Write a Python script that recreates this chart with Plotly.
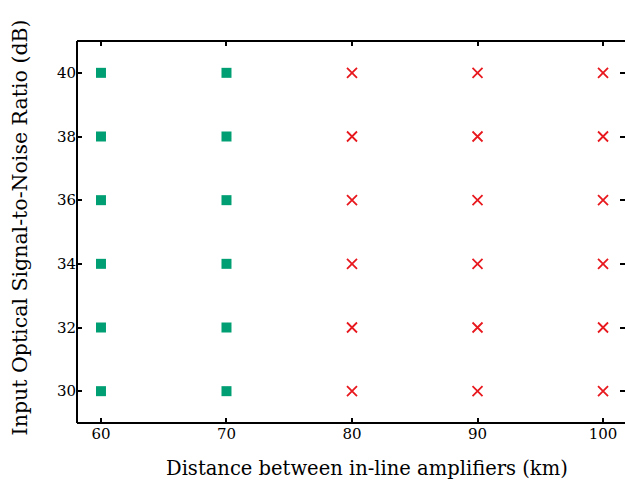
import plotly.graph_objects as go

osnr_levels = [30, 32, 34, 36, 38, 40]
ok_distances = [60, 70]
fail_distances = [80, 90, 100]
x_ticks = [60, 70, 80, 90, 100]
y_ticks = [30, 32, 34, 36, 38, 40]
x_title = "Distance between in-line amplifiers (km)"
y_title = "Input Optical Signal-to-Noise Ratio (dB)"

ok_x = [d for d in ok_distances for _ in osnr_levels]
ok_y = [o for _ in ok_distances for o in osnr_levels]
fail_x = [d for d in fail_distances for _ in osnr_levels]
fail_y = [o for _ in fail_distances for o in osnr_levels]

FONT = "DejaVu Serif"

fig = go.Figure()
fig.add_trace(go.Scatter(x=ok_x, y=ok_y, mode="markers",
                         marker=dict(symbol="square", size=10, color="#009E73"),
                         showlegend=False))
fig.add_trace(go.Scatter(x=fail_x, y=fail_y, mode="markers",
                         marker=dict(symbol="x-thin", size=10, color="#E8191E",
                                     line=dict(width=1.8, color="#E8191E")),
                         showlegend=False))

fig.update_layout(
    width=625, height=486,
    margin=dict(l=77, r=0, t=41, b=63),
    plot_bgcolor="white", paper_bgcolor="white",
    font=dict(family=FONT, size=16, color="black"),
    xaxis=dict(range=[58.09, 101.75], tickvals=x_ticks, ticks="inside", ticklen=5,
               tickwidth=1.5, tickcolor="black", mirror="ticks", showline=False,
               showgrid=False, zeroline=False, tickfont=dict(size=15)),
    yaxis=dict(range=[29, 41], tickvals=y_ticks, ticks="inside", ticklen=5,
               tickwidth=1.5, tickcolor="black", mirror="ticks", showline=False,
               showgrid=False, zeroline=False, tickfont=dict(size=15)),
)
fig.add_annotation(text=x_title, xref="paper", yref="paper", x=0.529, y=-0.118,
                   xanchor="center", yanchor="middle", showarrow=False,
                   font=dict(size=19.5))
fig.add_annotation(text=y_title, xref="paper", yref="paper", x=-0.104, y=0.512,
                   xanchor="center", yanchor="middle", showarrow=False, textangle=-90,
                   font=dict(size=20.5))
for s in [dict(x0=0, x1=0, y0=0, y1=1), dict(x0=0, x1=1, y0=0, y1=0), dict(x0=0, x1=1, y0=1, y1=1)]:
    fig.add_shape(type="line", xref="paper", yref="paper", line=dict(color="black", width=2), **s)

fig.write_html("out.html", config={"displayModeBar": False},
               post_script="document.body.style.margin='0px';document.body.style.overflow='hidden';")
